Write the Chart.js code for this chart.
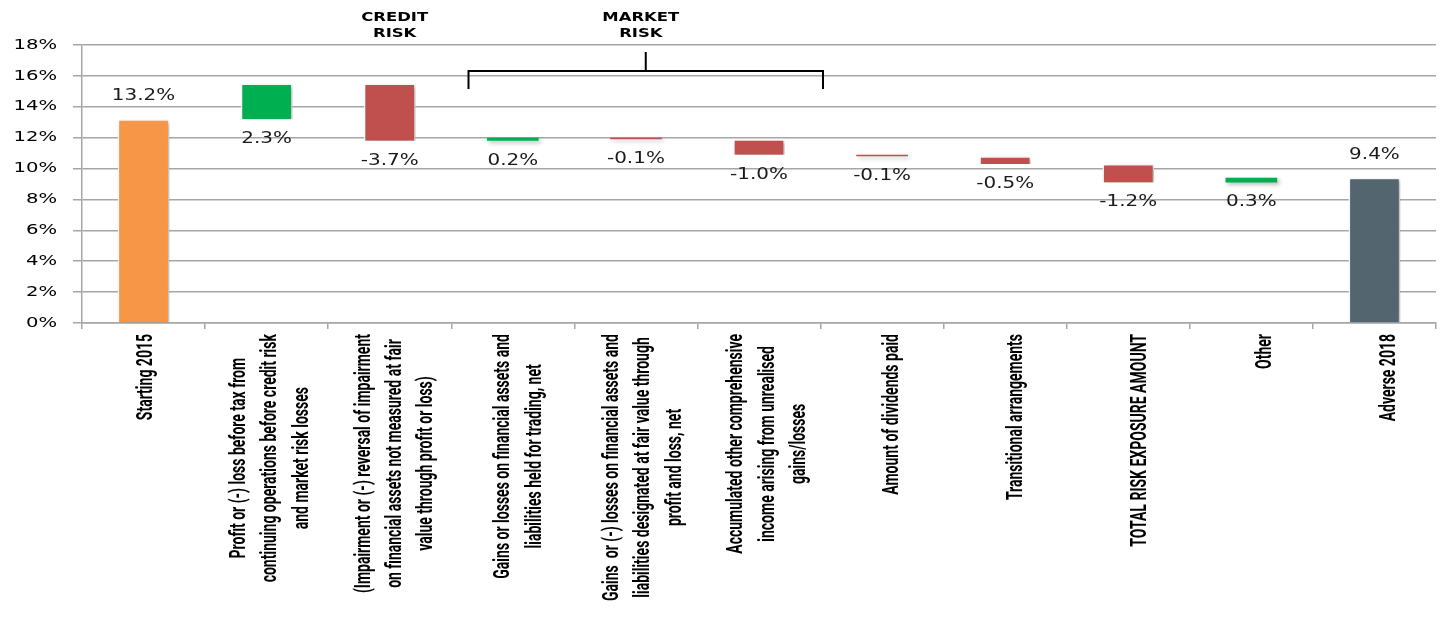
<!DOCTYPE html>
<html>
<head>
<meta charset="utf-8">
<script src="https://cdn.jsdelivr.net/npm/chart.js@4"></script>
<style>
  body { margin: 0; background: #fff; }
</style>
</head>
<body>
<canvas id="capitalWaterfall" width="1440" height="617"></canvas>
<script>
// categories along the x axis (multi-line labels as arrays)
const categories = [
  'Starting 2015',
  ['Profit or (-) loss before tax from', 'continuing operations before credit risk', 'and market risk losses'],
  ['(Impairment or (-) reversal of impairment', 'on financial assets not measured at fair', 'value through profit or loss)'],
  ['Gains or losses on financial assets and', 'liabilities held for trading, net'],
  ['Gains  or (-) losses on financial assets and', 'liabilities designated at fair value through', 'profit and loss, net'],
  ['Accumulated other comprehensive', 'income arising from unrealised', 'gains/losses'],
  'Amount of dividends paid',
  'Transitional arrangements',
  'TOTAL RISK EXPOSURE AMOUNT',
  'Other',
  'Adverse 2018'
];

// CET1 ratio in %, start, step changes, end
const startValue = 13.2;
const changes = [2.3, -3.7, 0.2, -0.1, -1.0, -0.1, -0.5, -1.2, 0.3];
const endValue = 9.4;

// group notes above the chart: [first category, last category, text lines]
const creditNote = [2, 2, ['CREDIT', 'RISK']];
const marketNote = [3, 5, ['MARKET', 'RISK']];

const yMin = 0, yMax = 18, yStep = 2;

// build floating bars from the arrays
const ranges = [[0, startValue]];
const shownValues = [startValue];
let level = startValue;
changes.forEach(c => {
  const next = Math.round((level + c) * 10) / 10;
  ranges.push([level, next]);
  shownValues.push(c);
  level = next;
});
ranges.push([0, endValue]);
shownValues.push(endValue);

const lastIdx = categories.length - 1;
const barColors = shownValues.map((v, i) => {
  if (i === 0) return '#F79646';
  if (i === lastIdx) return '#53656E';
  return v >= 0 ? '#00B050' : '#C0504D';
});
const borderWidths = shownValues.map((v, i) => (i === 0 || i === lastIdx || Math.abs(v) >= 0.5) ? 1.5 : 0);

// the source picture is stretched wide, so text is drawn a bit wider too
function wideText(ctx, text, x, y, sx) {
  ctx.save();
  ctx.translate(x, y);
  ctx.scale(sx, 1);
  ctx.fillText(text, 0, 0);
  ctx.restore();
}

const waterfallPlugin = {
  id: 'waterfallExtras',
  beforeDatasetsDraw(chart) {
    const ctx = chart.ctx;
    ctx.save();
    ctx.shadowColor = 'rgba(0,0,0,0.3)';
    ctx.shadowBlur = 4;
    ctx.shadowOffsetX = 2;
    ctx.shadowOffsetY = 2;
  },
  afterDatasetsDraw(chart) {
    const ctx = chart.ctx;
    ctx.restore();

    const xs = chart.scales.x;
    const ys = chart.scales.y;
    const area = chart.chartArea;
    const catW = xs.width / categories.length;

    // value labels
    const meta = chart.getDatasetMeta(0);
    ctx.save();
    ctx.fillStyle = '#1a1a1a';
    ctx.font = '15px "DejaVu Sans"';
    ctx.textAlign = 'center';
    ctx.textBaseline = 'middle';
    meta.data.forEach((bar, i) => {
      const top = Math.min(bar.y, bar.base);
      const bottom = Math.max(bar.y, bar.base);
      const txt = shownValues[i].toFixed(1) + '%';
      if (i === 0 || i === lastIdx) {
        wideText(ctx, txt, bar.x, top - 23, 1.33);
      } else {
        wideText(ctx, txt, bar.x, bottom + 20, 1.33);
      }
    });
    ctx.restore();

    // y tick labels
    ctx.save();
    ctx.fillStyle = '#000';
    ctx.font = '14px "DejaVu Sans"';
    ctx.textAlign = 'right';
    ctx.textBaseline = 'middle';
    ys.ticks.forEach(t => {
      wideText(ctx, t.value + '%', area.left - 25, ys.getPixelForValue(t.value), 1.4);
    });
    ctx.restore();

    // rotated x labels, lines centred on each other
    ctx.save();
    ctx.fillStyle = '#000';
    ctx.font = 'bold 14px Roboto';
    ctx.textAlign = 'center';
    ctx.textBaseline = 'middle';
    const stretch = 1.6, lineH = 19.5;
    categories.forEach((lab, i) => {
      const lines = Array.isArray(lab) ? lab : [lab];
      const maxW = Math.max(...lines.map(l => ctx.measureText(l).width));
      const cx = xs.getPixelForValue(i) + 3 + i * 1.2;
      ctx.save();
      ctx.translate(cx, area.bottom + 11 + maxW / 2);
      ctx.rotate(-Math.PI / 2);
      ctx.scale(1, stretch);
      lines.forEach((l, j) => {
        ctx.fillText(l, 0, (j - (lines.length - 1) / 2) * lineH);
      });
      ctx.restore();
    });
    ctx.restore();

    // group notes and bracket
    ctx.save();
    ctx.fillStyle = '#000';
    ctx.font = 'bold 12px "DejaVu Sans"';
    ctx.textAlign = 'center';
    ctx.textBaseline = 'middle';
    [creditNote, marketNote].forEach(([a, b, lines]) => {
      const left = xs.getPixelForValue(a) - catW / 2;
      const right = xs.getPixelForValue(b) + catW / 2;
      const mid = (left + right) / 2 + catW * 0.04;
      lines.forEach((l, j) => wideText(ctx, l, mid, area.top - 27 + j * 16, 1.37));
    });
    const bl = xs.getPixelForValue(marketNote[0]) - catW / 2 + catW * 0.14;
    const br = xs.getPixelForValue(marketNote[1]) + catW / 2 + catW * 0.02;
    const bm = (bl + br) / 2;
    ctx.strokeStyle = '#000';
    ctx.lineWidth = 2;
    ctx.beginPath();
    ctx.moveTo(bl, area.top + 44);
    ctx.lineTo(bl, area.top + 26);
    ctx.lineTo(br, area.top + 26);
    ctx.lineTo(br, area.top + 44);
    ctx.moveTo(bm, area.top + 26);
    ctx.lineTo(bm, area.top + 7);
    ctx.stroke();
    ctx.restore();
  }
};

const ctx = document.getElementById('capitalWaterfall');

new Chart(ctx, {
  type: 'bar',
  data: {
    labels: categories,
    datasets: [{
      data: ranges,
      backgroundColor: barColors,
      borderColor: '#ffffff',
      borderWidth: borderWidths,
      borderSkipped: 'bottom',
      barPercentage: 0.42,
      categoryPercentage: 1
    }]
  },
  options: {
    responsive: false,
    animation: false,
    devicePixelRatio: 1,
    layout: { padding: { left: 0, right: 4, top: 45, bottom: 0 } },
    plugins: {
      legend: { display: false },
      tooltip: { enabled: false }
    },
    scales: {
      x: {
        ticks: { display: false },
        grid: { drawOnChartArea: false, drawTicks: true, tickLength: 6, color: '#a6a6a6', lineWidth: 1.5 },
        border: { display: true, color: '#a6a6a6', width: 1.5 },
        afterFit(s) { s.height = 294; }
      },
      y: {
        min: yMin,
        max: yMax,
        ticks: { display: false, stepSize: yStep },
        grid: { color: '#a6a6a6', lineWidth: 1.5, drawTicks: true, tickLength: 9, tickColor: '#a6a6a6' },
        border: { display: true, color: '#a6a6a6', width: 1.5 },
        afterFit(s) { s.width = 82; }
      }
    }
  },
  plugins: [waterfallPlugin]
});
</script>
</body>
</html>
